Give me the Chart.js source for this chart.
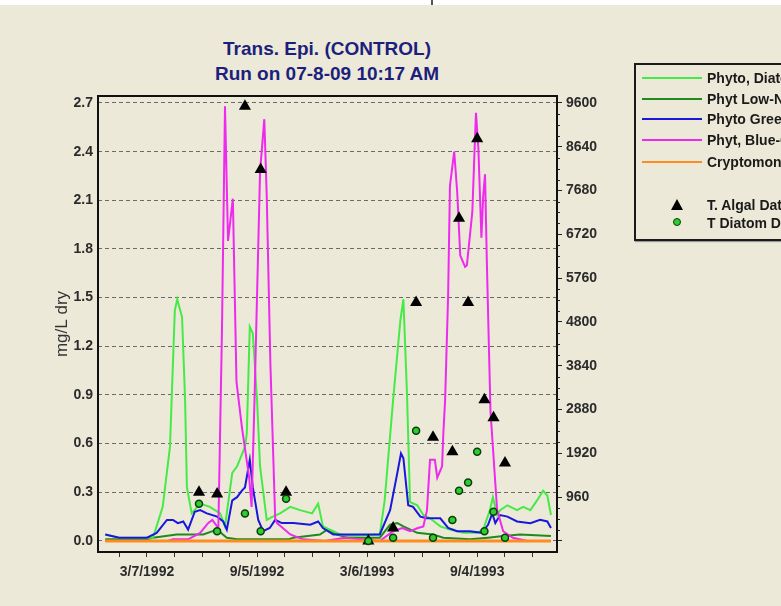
<!DOCTYPE html>
<html><head><meta charset="utf-8">
<script src="https://cdn.jsdelivr.net/npm/chart.js@4.4.1/dist/chart.umd.min.js"></script>
<style>
html,body{margin:0;padding:0;background:#ece9d8;width:781px;height:606px;overflow:hidden;font-family:"Liberation Sans",Arial,sans-serif;}
#topstrip{position:absolute;left:0;top:0;width:781px;height:5px;background:#fff;}
#topmark{position:absolute;left:431px;top:0;width:2px;height:5px;background:#555;}
.title{position:absolute;left:127px;width:400px;text-align:center;color:#1c1f7c;font-weight:bold;font-size:19px;line-height:22px;white-space:nowrap;}
#c{position:absolute;left:0;top:0;}
#legend{position:absolute;left:634px;top:63px;width:180px;height:178px;border:2px solid #1a1a1a;box-sizing:border-box;background:#ece9d8;box-shadow:1px 1px 1px #999;}
.row{position:absolute;left:0;height:18px;width:180px;}
.ln{position:absolute;left:6px;top:8px;width:60px;height:2px;}
.tx{position:absolute;left:71px;top:0;line-height:18px;font-size:14px;font-weight:bold;color:#1a1a1a;white-space:nowrap;}
.tri{position:absolute;left:35px;top:3px;width:0;height:0;border-left:6px solid transparent;border-right:6px solid transparent;border-bottom:11px solid #000;}
.dot{position:absolute;left:37px;top:4px;width:6px;height:6px;border-radius:50%;background:#2ecc2e;border:1.5px solid #0b3d0b;}
</style></head>
<body>
<div id="topstrip"></div><div id="topmark"></div>
<div class="title" style="top:38px">Trans. Epi. (CONTROL)</div>
<div class="title" style="top:63px">Run on 07-8-09 10:17 AM</div>
<canvas id="c" width="781" height="606"></canvas>
<div id="legend"></div>
<script>
// ---- data (day = days since 1 Jan 1992) ----
const seriesNames = ["Phyto, Diatoms", "Phyt Low-Nut Diatoms", "Phyto Greens", "Phyt, Blue-Greens", "Cryptomonads"];
const obsNames = ["T. Algal Data", "T Diatom Data"];

const diatomDays = [-3,20,50,76,92,104,112,116,124,129,132,140,154,170,187,195,207,215,228,231,236,241,248,253,264,274,286,303,319,339,349,357,374,385,400,451,459,473,485,490,496,501,513,523,534,551,567,589,612,622,633,638,645,650,662,678,688,700,711,721,728,734];
const diatomVals = [0.04,0.02,0.02,0.02,0.21,0.58,1.42,1.49,1.38,0.87,0.33,0.17,0.23,0.21,0.17,0.09,0.42,0.46,0.58,0.66,1.32,1.28,0.87,0.46,0.13,0.15,0.17,0.21,0.19,0.17,0.23,0.09,0.06,0.04,0.03,0.04,0.25,0.87,1.36,1.49,0.90,0.24,0.22,0.16,0.14,0.09,0.07,0.05,0.05,0.07,0.19,0.27,0.16,0.19,0.22,0.19,0.21,0.19,0.25,0.31,0.28,0.16];

const lowNutDays = [-3,66,76,115,159,182,198,215,300,308,352,364,380,400,451,468,480,490,513,539,556,600,630,655,683,734];
const lowNutVals = [0.01,0.01,0.02,0.04,0.04,0.07,0.02,0.01,0.01,0.02,0.04,0.07,0.04,0.02,0.02,0.10,0.11,0.09,0.05,0.04,0.02,0.01,0.02,0.03,0.04,0.03];

const greensDays = [-3,20,66,82,99,109,117,126,134,145,154,165,182,192,198,207,215,223,228,236,241,250,258,269,278,289,308,336,349,357,374,400,451,468,480,486,490,498,506,518,529,551,564,579,600,620,630,637,642,650,662,678,700,716,728,734];
const greensVals = [0.04,0.02,0.02,0.05,0.13,0.13,0.11,0.12,0.07,0.18,0.19,0.17,0.15,0.12,0.07,0.25,0.27,0.31,0.33,0.50,0.33,0.13,0.06,0.08,0.13,0.11,0.11,0.10,0.12,0.08,0.04,0.04,0.04,0.19,0.42,0.54,0.51,0.22,0.21,0.15,0.14,0.14,0.08,0.06,0.06,0.05,0.10,0.17,0.11,0.16,0.15,0.12,0.11,0.13,0.12,0.08];

const blueGreenDays = [-3,100,109,134,154,167,174,184,190,195,200,208,214,223,235,239,244,253,260,264,270,278,281,303,324,360,393,451,473,488,501,514,523,529,534,542,546,554,556,559,564,567,574,579,584,592,595,604,607,610,614,619,622,625,628,634,645,655,671,695,734];
const blueGreenVals = [0.0,0.0,0.01,0.01,0.05,0.11,0.13,0.08,1.3,2.68,1.85,2.11,0.98,0.70,0.39,0.21,0.9,2.28,2.60,2.13,1.10,0.14,0.11,0.04,0.01,0.0,0.02,0.0,0.06,0.08,0.06,0.08,0.09,0.19,0.50,0.50,0.39,0.46,0.66,0.87,1.52,2.19,2.40,2.15,1.76,1.69,1.70,2.03,2.34,2.64,2.42,1.87,2.13,2.26,1.72,0.80,0.19,0.06,0.02,0.0,0.0];

const cryptoDays = [-3,200,400,600,734];
const cryptoVals = [0.0,0.0,0.0,0.0,0.0];

const sampleDays = [152,182,228,254,296,432,473,511,539,571,582,597,612,624,639,658];
const algalObs   = [0.30,0.29,2.68,2.29,0.30,0.0,0.08,1.47,0.64,0.55,1.99,1.47,2.48,0.87,0.76,0.48];
const diatomObs  = [0.23,0.06,0.17,0.06,0.26,0.0,0.02,0.68,0.02,0.13,0.31,0.36,0.55,0.06,0.18,0.02];

const leftTicks = [0.0,0.3,0.6,0.9,1.2,1.5,1.8,2.1,2.4,2.7];
const rightTicks = [0,960,1920,2880,3840,4800,5760,6720,7680,8640,9600];
const dateLabelDays = [66,248,430,612];
const xTickStep = 45.5;

const colors = ["#46ea46","#1f8a1f","#1818dc","#ee2aee","#ff8c1e"];

// ---- helpers ----
const DAY0 = Date.UTC(1992,0,1);
function dayLabel(d){const dt=new Date(DAY0+Math.round(d)*86400000);return (dt.getUTCMonth()+1)+"/"+dt.getUTCDate()+"/"+dt.getUTCFullYear();}
function pts(xs,ys){return xs.map((x,i)=>({x:x,y:ys[i]}));}

const yMin=-0.068, yMax=2.743, xMin=-15, xMax=744;
const r2 = 9600/2.7;

const lineSets = [
 [diatomDays,diatomVals],[lowNutDays,lowNutVals],[greensDays,greensVals],[blueGreenDays,blueGreenVals],[cryptoDays,cryptoVals]
];
const lineOrder=[5,6,4,3,2];
const datasets = lineSets.map((s,i)=>({
  label:seriesNames[i], data:pts(s[0],s[1]), showLine:true, borderColor:colors[i], backgroundColor:colors[i],
  borderWidth:i===4?3:2, pointRadius:0, pointHoverRadius:0, tension:0, order:lineOrder[i], yAxisID:'y'
}));
datasets.push({label:obsNames[0], data:pts(sampleDays,algalObs), showLine:false, pointStyle:'triangle', pointRadius:7,
  backgroundColor:'#000', borderColor:'#000', borderWidth:0, order:1, yAxisID:'y'});
datasets.push({label:obsNames[1], data:pts(sampleDays,diatomObs), showLine:false, pointStyle:'circle', pointRadius:3.5,
  backgroundColor:'#2ecc2e', borderColor:'#0b3d0b', borderWidth:1.5, order:0, yAxisID:'y'});

const framePlugin = {id:'frame', afterDraw(chart){
  const {ctx, chartArea:a} = chart; const y2 = chart.scales.y2;
  ctx.save(); ctx.strokeStyle='#111'; ctx.lineWidth=2;
  ctx.strokeRect(a.left, a.top, a.right-a.left, a.bottom-a.top);
  ctx.lineWidth=1; ctx.strokeStyle='#222';
  for(let v=240; v<9600; v+=240){ if(v%960===0) continue; const py=Math.round(y2.getPixelForValue(v))+0.5;
    ctx.beginPath(); ctx.moveTo(a.right, py); ctx.lineTo(a.right+3, py); ctx.stroke(); }
  ctx.restore();
}};

const tickFont = {family:'"Liberation Sans", Arial, sans-serif', size:14, weight:'bold'};
new Chart(document.getElementById('c'), {
  type:'scatter',
  data:{datasets},
  plugins:[framePlugin],
  options:{
    responsive:false, devicePixelRatio:1, animation:false,
    layout:{padding:{left:0, top:96, right:164, bottom:0}},
    plugins:{legend:{display:false}, title:{display:false}, tooltip:{enabled:false}},
    scales:{
      x:{type:'linear', min:xMin, max:xMax,
        afterBuildTicks(s){const t=[];for(let k=-2;k<20;k++){const v=66+xTickStep*k;if(v>=xMin&&v<=xMax)t.push({value:v});}s.ticks=t;},
        afterFit(s){s.height=54;},
        ticks:{autoSkip:false, maxRotation:0, minRotation:0, padding:7, color:'#2b2b2b', font:tickFont,
          callback(v){return dateLabelDays.some(d=>Math.abs(d-v)<0.01)?dayLabel(v):'';}},
        grid:{drawOnChartArea:false, drawTicks:true, tickLength:5, tickColor:'#333', color:'#333'},
        border:{display:false}
      },
      y:{type:'linear', position:'left', min:yMin, max:yMax,
        afterBuildTicks(s){s.ticks=leftTicks.map(v=>({value:v}));},
        afterFit(s){s.width=98;},
        ticks:{padding:5, color:'#2b2b2b', font:tickFont, callback(v){return v.toFixed(1);}},
        grid:{drawTicks:false, color:'#6a6a6a', lineWidth:1},
        border:{display:false, dash:[4,3]},
        title:{display:true, text:'mg/L dry', color:'#333', font:{family:'"Liberation Sans", Arial, sans-serif', size:17}, padding:{top:52,bottom:0}}
      },
      y2:{type:'linear', position:'right', min:yMin*r2, max:yMax*r2,
        afterBuildTicks(s){s.ticks=rightTicks.map(v=>({value:v}));},
        afterFit(s){s.width=60;},
        ticks:{padding:4, color:'#2b2b2b', font:tickFont, callback(v){return v===0?'':String(v);}},
        grid:{drawOnChartArea:false, drawTicks:true, tickLength:5, tickColor:'#222'},
        border:{display:false}
      }
    }
  }
});

// ---- legend (HTML) ----
const lg=document.getElementById('legend');
const rowCenters=[13,34,54,75,97];
seriesNames.forEach((n,i)=>{
  const r=document.createElement('div'); r.className='row'; r.style.top=(rowCenters[i]-9)+'px';
  r.innerHTML='<div class="ln" style="background:'+colors[i]+'"></div><div class="tx">'+n+'</div>';
  lg.appendChild(r);
});
[[140,'tri'],[158,'dot']].forEach((o,i)=>{
  const r=document.createElement('div'); r.className='row'; r.style.top=(o[0]-9)+'px';
  r.innerHTML='<div class="'+o[1]+'"></div><div class="tx">'+obsNames[i]+'</div>';
  lg.appendChild(r);
});
</script>
</body></html>
